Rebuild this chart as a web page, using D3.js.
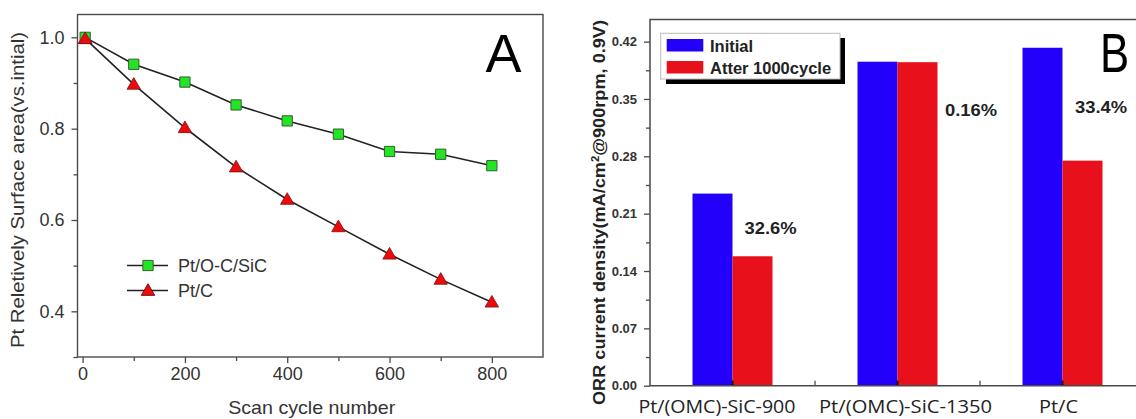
<!DOCTYPE html>
<html>
<head>
<meta charset="utf-8">
<script src="https://cdn.jsdelivr.net/npm/d3@7/dist/d3.min.js"></script>
<style>
  html, body { margin: 0; padding: 0; background: #fff; }
  svg { display: block; }
</style>
</head>
<body>
<svg id="chart" width="1136" height="419"></svg>
<script>
// ---------- Panel A: relative Pt surface area vs. scan cycles ----------
const cycles = [5, 100, 200, 300, 400, 500, 600, 700, 800];
const areaOCSiC = [1.0, 0.941, 0.902, 0.852, 0.817, 0.788, 0.750, 0.744, 0.719];
const areaPtC   = [0.997, 0.897, 0.802, 0.716, 0.645, 0.585, 0.525, 0.470, 0.420];
const seriesNamesA = ["Pt/O-C/SiC", "Pt/C"];
const xTicksA = [0, 200, 400, 600, 800];
const yTicksA = [0.4, 0.6, 0.8, 1.0];

// ---------- Panel B: ORR current density before/after cycling ----------
const catalysts = ["Pt/(OMC)-SiC-900", "Pt/(OMC)-SiC-1350", "Pt/C"];
const initialDensity = [0.2345, 0.3955, 0.4125];
const after1000Density = [0.1580, 0.3949, 0.2747];
const lossLabels = ["32.6%", "0.16%", "33.4%"];
const seriesNamesB = ["Initial", "Atter 1000cycle"];
const yTicksB = [0, 0.07, 0.14, 0.21, 0.28, 0.35, 0.42];

const svg = d3.select("#chart");
const sans = "'Liberation Sans', Arial, sans-serif";
const axisColor = "#4a4a4a";

// =================== Panel A ===================
const A = { left: 77.5, right: 543, top: 14.5, bottom: 357 };
const xA = d3.scaleLinear().domain([-10, 900]).range([A.left, A.right]);
const yA = d3.scaleLinear().domain([0.3, 1.05]).range([A.bottom, A.top]);
const gA = svg.append("g");

// minor ticks
gA.append("g").attr("transform", `translate(0,${A.bottom})`)
  .call(d3.axisBottom(xA).tickValues([100, 300, 500, 700]).tickSize(4).tickFormat(""))
  .call(g => g.select(".domain").remove());
gA.append("g").attr("transform", `translate(${A.left},0)`)
  .call(d3.axisLeft(yA).tickValues([0.3, 0.5, 0.7, 0.9]).tickSize(4).tickFormat(""))
  .call(g => g.select(".domain").remove());
// major ticks
gA.append("g").attr("class", "axA").attr("transform", `translate(0,${A.bottom})`)
  .call(d3.axisBottom(xA).tickValues(xTicksA).tickSize(6).tickPadding(4).tickFormat(d3.format("d")))
  .call(g => g.select(".domain").remove());
gA.append("g").attr("class", "axA").attr("transform", `translate(${A.left},0)`)
  .call(d3.axisLeft(yA).tickValues(yTicksA).tickSize(6).tickPadding(7).tickFormat(d3.format(".1f")))
  .call(g => g.select(".domain").remove());
gA.selectAll(".tick line").attr("stroke", axisColor).attr("stroke-width", 1.3);
gA.selectAll(".axA text").attr("font-family", sans).attr("font-size", 18).attr("fill", "#333");

// frame
gA.append("rect").attr("x", A.left).attr("y", A.top)
  .attr("width", A.right - A.left).attr("height", A.bottom - A.top)
  .attr("fill", "none").attr("stroke", axisColor).attr("stroke-width", 1.4);

const lineA = d3.line().x((d, i) => xA(cycles[i])).y(d => yA(d));
[areaOCSiC, areaPtC].forEach(s => {
  gA.append("path").datum(s).attr("d", lineA)
    .attr("fill", "none").attr("stroke", "#222").attr("stroke-width", 1.6);
});

const squareSym = d3.symbol().type(d3.symbolSquare).size(105);
const triSym = d3.symbol().type(d3.symbolTriangle).size(78);
const green = "#22e622", red = "#ee0a0a";

gA.append("g").selectAll("path").data(areaPtC).join("path")
  .attr("d", triSym)
  .attr("transform", (d, i) => `translate(${xA(cycles[i])},${yA(d) + 1})`)
  .attr("fill", red).attr("stroke", "#7a1010").attr("stroke-width", 0.8);
gA.append("g").selectAll("path").data(areaOCSiC).join("path")
  .attr("d", squareSym)
  .attr("transform", (d, i) => `translate(${xA(cycles[i])},${yA(d)})`)
  .attr("fill", green).attr("stroke", "#3a5a3a").attr("stroke-width", 1);
// the first triangle sits on top of the first square
gA.append("path").attr("d", triSym)
  .attr("transform", `translate(${xA(cycles[0])},${yA(areaPtC[0]) + 1})`)
  .attr("fill", red).attr("stroke", "#7a1010").attr("stroke-width", 0.8);

// legend A
const legA = gA.append("g");
[{ y: 265.5, sym: squareSym, fill: green, stroke: "#3a5a3a" },
 { y: 290.5, sym: triSym, fill: red, stroke: "#7a1010" }].forEach((it, i) => {
  legA.append("line").attr("x1", 127).attr("x2", 168).attr("y1", it.y).attr("y2", it.y)
    .attr("stroke", "#222").attr("stroke-width", 1.6);
  legA.append("path").attr("d", it.sym).attr("transform", `translate(148,${it.y + (i ? 1 : 0)})`)
    .attr("fill", it.fill).attr("stroke", it.stroke).attr("stroke-width", 1);
  legA.append("text").attr("x", 178).attr("y", it.y + 6.5)
    .attr("font-family", sans).attr("font-size", 18).attr("fill", "#333")
    .text(seriesNamesA[i]);
});

// titles A
gA.append("text").attr("x", 311.7).attr("y", 414).attr("text-anchor", "middle")
  .attr("font-family", sans).attr("font-size", 18.5).attr("fill", "#333")
  .attr("textLength", 167).attr("lengthAdjust", "spacingAndGlyphs")
  .text("Scan cycle number");
gA.append("text").attr("transform", "translate(24,190) rotate(-90)").attr("text-anchor", "middle")
  .attr("font-family", sans).attr("font-size", 18).attr("fill", "#333")
  .attr("textLength", 316).attr("lengthAdjust", "spacingAndGlyphs")
  .text("Pt Reletively Surface area(vs.intial)");
gA.append("text").attr("x", 485.5).attr("y", 72)
  .attr("font-family", sans).attr("font-size", 54).attr("fill", "#000").text("A");

// =================== Panel B ===================
const B = { left: 650, right: 1145, top: 19.5, bottom: 385.7 };
const x0 = d3.scaleBand().domain(catalysts).range([B.left, B.right]).padding(0);
const groupW = 80;
const x1 = d3.scaleBand().domain(seriesNamesB).range([0, groupW]).padding(0);
const yB = d3.scaleLinear().domain([0, 0.447]).range([B.bottom, B.top]);
const gB = svg.append("g");
const colorB = { "Initial": "#2200fa", "Atter 1000cycle": "#e8111b" };

const rows = catalysts.map((c, i) => ({ cat: c, vals: [initialDensity[i], after1000Density[i]] }));
const groupStart = c => x0(c) + (x0.bandwidth() - groupW) / 2;

gB.append("g").selectAll("g").data(rows).join("g")
  .selectAll("rect").data(r => r.vals.map((v, j) => ({ cat: r.cat, s: seriesNamesB[j], v })))
  .join("rect")
  .attr("x", d => groupStart(d.cat) + x1(d.s))
  .attr("width", x1.bandwidth())
  .attr("y", d => yB(d.v))
  .attr("height", d => yB(0) - yB(d.v))
  .attr("fill", d => colorB[d.s]);

// y axis B
gB.append("g").attr("transform", `translate(${B.left},0)`)
  .call(d3.axisLeft(yB).tickValues(d3.range(0.035, 0.44, 0.07)).tickSize(4).tickFormat(""))
  .call(g => g.select(".domain").remove());
gB.append("g").attr("class", "axB").attr("transform", `translate(${B.left},0)`)
  .call(d3.axisLeft(yB).tickValues(yTicksB).tickSize(6).tickPadding(7).tickFormat(d3.format(".2f")))
  .call(g => g.select(".domain").remove());
gB.selectAll(".tick line").attr("stroke", axisColor).attr("stroke-width", 1.3);
gB.selectAll(".axB text").attr("font-family", sans).attr("font-size", 13)
  .attr("font-weight", "bold").attr("fill", "#333");

// category ticks (inward)
gB.append("g").selectAll("line").data(catalysts.slice(1)).join("line")
  .attr("x1", d => x0(d)).attr("x2", d => x0(d))
  .attr("y1", B.bottom).attr("y2", B.bottom - 5)
  .attr("stroke", axisColor).attr("stroke-width", 1.3);
gB.append("g").selectAll("line").data(catalysts).join("line")
  .attr("x1", d => x0(d) + x0.bandwidth() / 2).attr("x2", d => x0(d) + x0.bandwidth() / 2)
  .attr("y1", B.bottom).attr("y2", B.bottom - 5)
  .attr("stroke", "#111").attr("stroke-width", 2);

// frame B
gB.append("path")
  .attr("d", `M${B.right},${B.bottom}H${B.left}V${B.top}H${B.right}Z`)
  .attr("fill", "none").attr("stroke", axisColor).attr("stroke-width", 1.5);

// category labels
const catShift = [-15.5, 8, -4];
const catWidth = [157, 173, 39];
gB.append("g").selectAll("text").data(catalysts).join("text")
  .attr("x", (d, i) => x0(d) + x0.bandwidth() / 2 + catShift[i])
  .attr("y", 413).attr("text-anchor", "middle")
  .attr("font-family", "'Open Sans', 'Noto Sans', sans-serif").attr("font-size", 18).attr("fill", "#222")
  .attr("textLength", (d, i) => catWidth[i]).attr("lengthAdjust", "spacingAndGlyphs")
  .text(d => d);

// loss percentages, placed relative to each group's left edge
const lossAnchor = [{ dx: 78, v: 0.185 }, { dx: 113.5, v: 0.329 }, { dx: 78.5, v: 0.333 }];
gB.append("g").selectAll("text").data(lossLabels).join("text")
  .attr("x", (d, i) => groupStart(catalysts[i]) + lossAnchor[i].dx)
  .attr("y", (d, i) => yB(lossAnchor[i].v))
  .attr("text-anchor", "middle")
  .attr("font-family", sans).attr("font-size", 16).attr("font-weight", "bold").attr("fill", "#222")
  .attr("textLength", 52).attr("lengthAdjust", "spacingAndGlyphs")
  .text(d => d);

// legend B with drop shadow
const legB = gB.append("g");
legB.append("rect").attr("x", 666).attr("y", 38).attr("width", 179).attr("height", 46).attr("fill", "#000");
legB.append("rect").attr("x", 660.7).attr("y", 33.3).attr("width", 179.3).attr("height", 45.7)
  .attr("fill", "#fff").attr("stroke", "#bbb").attr("stroke-width", 1);
seriesNamesB.forEach((s, i) => {
  legB.append("rect").attr("x", 666.7).attr("y", 39 + i * 22).attr("width", 36.6).attr("height", 12.5)
    .attr("fill", colorB[s]);
  legB.append("text").attr("x", 710).attr("y", 51.5 + i * 22)
    .attr("font-family", sans).attr("font-size", 16.5).attr("font-weight", "bold").attr("fill", "#222")
    .text(s);
});

// y title B
const yTitle = gB.append("text").attr("transform", "translate(605,212.5) rotate(-90)")
  .attr("text-anchor", "middle")
  .attr("font-family", sans).attr("font-size", 16).attr("font-weight", "bold").attr("fill", "#222")
  .attr("textLength", 385).attr("lengthAdjust", "spacingAndGlyphs");
yTitle.append("tspan").text("ORR current density(mA/cm");
yTitle.append("tspan").attr("dy", -6).attr("font-size", 10).text("2");
yTitle.append("tspan").attr("dy", 6).text("@900rpm, 0.9V)");

gB.append("text").attr("x", 1100).attr("y", 72)
  .attr("transform", "translate(1100,0) scale(0.78,1) translate(-1100,0)")
  .attr("font-family", sans).attr("font-size", 56).attr("fill", "#000").text("B");
</script>
</body>
</html>
